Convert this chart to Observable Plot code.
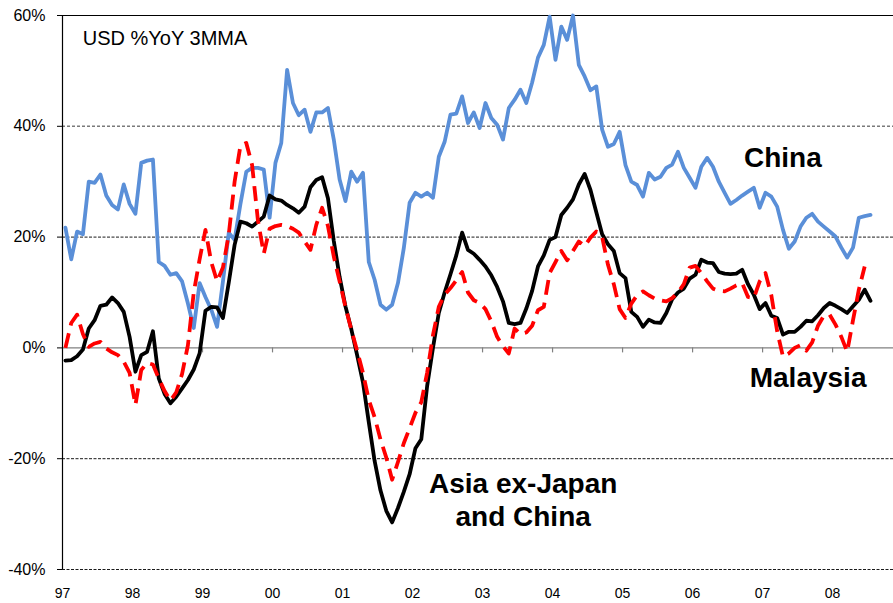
<!DOCTYPE html>
<html>
<head>
<meta charset="utf-8">
<script src="https://cdn.jsdelivr.net/npm/d3@7"></script>
<script src="https://cdn.jsdelivr.net/npm/@observablehq/plot@0.6"></script>
<style>
  html, body { margin: 0; padding: 0; background: #fff; }
  #chart svg { display: block; }
</style>
</head>
<body>
<div id="chart"></div>
<script>
// Monthly series, USD %YoY 3MMA, starting January 1997
const startYear = 1997;
const yearTicks = [1997, 1998, 1999, 2000, 2001, 2002, 2003, 2004, 2005, 2006, 2007, 2008];
const yTicks = [-40, -20, 0, 20, 40, 60];

const china = [
  21.7, 16, 21, 20.5, 30, 29.8, 31.3, 27.5, 25.8, 25,
  29.5, 26, 24.2, 33.4, 33.8, 34, 15.5, 14.8, 13.2, 13.5,
  12, 8, 3.6, 11.7, 9.2, 6.9, 3.8, 12, 20.8, 19.5,
  26, 31.8, 32.5, 32.5, 32.2, 23.5, 33.4, 37, 50.2, 44.2,
  42, 43, 39, 42.5, 42.5, 43.3, 37.6, 30.4, 26.5, 31.8,
  30, 31.6, 15.5, 12.3, 7.8, 6.9, 7.8, 11.7, 18, 26.2,
  28, 27.3, 28, 27.1, 34.5, 37.2, 42.1, 42.3, 45.4, 40.6,
  42.5, 39.7, 44.2, 41.5, 40.3, 37.6, 43.3, 44.8, 46.6, 44.2,
  47.9, 52.4, 54.7, 59.8, 52, 58, 55.6, 60, 51.1, 49,
  46.5, 47.2, 39.4, 36.3, 36.8, 39, 33, 30, 29.4, 27.3,
  31.6, 30.4, 30.9, 32.5, 33.1, 35.4, 32.5, 30.7, 28.9, 32.7,
  34.3, 32.7, 30, 28, 26, 26.7, 27.5, 28.2, 28.9, 25.3,
  28, 27.3, 25.5, 21.3, 17.9, 19.2, 21.9, 23.5, 24.2, 22.8,
  21.9, 21, 20.1, 18.1, 16.3, 18.1, 23.5, 23.8, 24
];

const asiaExJapanChina = [
  -2.3, -2.2, -1.5, -0.3, 3.5, 5, 7.6, 7.8, 9.1, 8.1,
  6.5, 2, -4.3, -1.3, -0.7, 3, -5.5, -8.3, -10, -8.8,
  -7.3, -5.8, -3.9, -1, 6.7, 7.4, 7.3, 5.4, 11.8, 18.6,
  22.8, 22.5, 21.9, 22.8, 23.7, 27.5, 26.8, 26.6, 25.8, 25.2,
  24.4, 25.5, 29, 30.3, 30.8, 27, 19.3, 12.8, 7.5, 3.4,
  -1.3, -6.2, -13.4, -20.4, -25.7, -29.4, -31.5, -28.9, -26, -22.8,
  -18.1, -16.5, -6.9, 0, 6.3, 10, 13.3, 16.7, 20.8, 17.7,
  17, 15.9, 14.7, 13.1, 11, 8.4, 4.5, 4.3, 4.5, 7.1,
  10.3, 14.7, 16.7, 19.5, 20, 24, 25.3, 26.8, 29.5, 31.4,
  28.5, 24.5, 20.5, 18.7, 17.5, 13.5, 12.6, 6.5, 5.6, 3.8,
  5.1, 4.6, 4.5, 6.3, 8.8, 10, 10.7, 12.5, 13.2, 15.9,
  15.4, 15.3, 13.7, 13.4, 13.3, 13.4, 14.1, 11.5, 9.6, 7,
  8.1, 5.8, 5.4, 2.4, 2.9, 2.9, 3.8, 4.9, 4.8, 5.9,
  7.2, 8.1, 7.6, 7, 6.3, 7.5, 8.7, 10.5, 8.5
];

const malaysia = [
  0, 4.5, 6, 2.5, 0.2, 0.8, 1.1, -0.1, -0.8, -1.3,
  -2.5, -4.5, -10.3, -4, -2.7, -3, -5.5, -7.8, -9.5, -8,
  -4.7, 0.5, 10, 16, 21.3, 15.5, 12, 14.5, 20.5, 30,
  36.5, 37, 33, 23, 17, 21.5, 22, 22.2, 22, 21.5,
  20.8, 19.2, 17.7, 22.2, 25.3, 22, 16.5, 12, 7.4, 3.3,
  -0.5, -4.5, -9.4, -12.5, -16.5, -19.8, -23.8, -20.6, -17.2, -14.5,
  -11.7, -9.8, -4.5, 2.3, 7.4, 9.6, 10.8, 12.2, 13.7, 10,
  8.6, 8.1, 7, 4.8, 2, 0.3, -1, 3.5, 2.5, 2.8,
  4, 6.8, 7.4, 13.5, 15.5, 17.5, 15.8, 17.5, 19.2, 18.4,
  19.9, 21, 20, 15, 11.5, 7, 5.4, 8, 9.5, 10.2,
  9.5, 8.9, 8.6, 8.4, 9, 10, 11.5, 14.5, 14.8, 13.5,
  12, 10.7, 10.3, 10.2, 10.7, 11.3, 11.7, 9.2, 9, 12,
  13.5, 9.5, 3, -1.6, -1, 0, 0.5, -0.5, 1, 4,
  5.8, 6, 4.2, 2, -0.7, 5, 10.5, 14.7
];

// month i is plotted at the middle of its month slot
const toRows = (values) => values.map((v, i) => ({date: startYear + (i + 0.5) / 12, value: v}));

const font = "'Liberation Sans', Arial, Helvetica, sans-serif";

const chart = Plot.plot({
  width: 893,
  height: 603,
  marginLeft: 62,
  marginRight: 0,
  marginTop: 15,
  marginBottom: 34,
  style: {fontFamily: font, background: "#fff", color: "#000", overflow: "visible"},
  x: {domain: [1997, 2008.87]},
  y: {domain: [-40, 60]},
  marks: [
    Plot.ruleY([40], {stroke: "#7a7a7a", strokeWidth: 1.4, strokeDasharray: "3,2"}),
    Plot.ruleY([20, -20, -40], {stroke: "#000", strokeWidth: 0.9, strokeDasharray: "3,1.5"}),
    Plot.ruleY([60], {stroke: "#000", strokeWidth: 1.2}),
    Plot.ruleY([0], {stroke: "#808080", strokeWidth: 1.3}),
    Plot.ruleX(yearTicks.slice(1), {x: d => d, y1: 0, y2: 0, insetBottom: -5, stroke: "#808080", strokeWidth: 1.2}),
    Plot.ruleX([1997], {stroke: "#000", strokeWidth: 1.2}),
    Plot.axisY({ticks: yTicks, tickFormat: d => d + "%", tickSize: 5, tickPadding: 12, fontSize: 16, label: null}),
    Plot.axisX({ticks: yearTicks, tickFormat: d => String(d).slice(2), tickSize: 0, tickPadding: 19, fontSize: 14, label: null}),
    Plot.line(toRows(china), {x: "date", y: "value", stroke: "#5A8FD8", strokeWidth: 3.8}),
    Plot.line(toRows(asiaExJapanChina), {x: "date", y: "value", stroke: "#000", strokeWidth: 3.8}),
    Plot.line(toRows(malaysia), {x: "date", y: "value", stroke: "#FF0000", strokeWidth: 3.8, strokeDasharray: "15,8", strokeLinecap: "butt"}),
    Plot.text(["USD %YoY 3MMA"], {text: d => d, x: 1997.29, y: 55.9, textAnchor: "start", fontSize: 20, fill: "#000"}),
    Plot.text(["China"], {text: d => d, x: 2007.29, y: 34.3, fontSize: 28, fontWeight: "bold", fill: "#000"}),
    Plot.text(["Malaysia"], {text: d => d, x: 2007.65, y: -5.4, fontSize: 28, fontWeight: "bold", fill: "#000"}),
    Plot.text(["Asia ex-Japan\nand China"], {text: d => d, x: 2003.58, y: -27.2, fontSize: 28, fontWeight: "bold", lineHeight: 1.18, fill: "#000"})
  ]
});

document.getElementById("chart").appendChild(chart);
</script>
</body>
</html>
